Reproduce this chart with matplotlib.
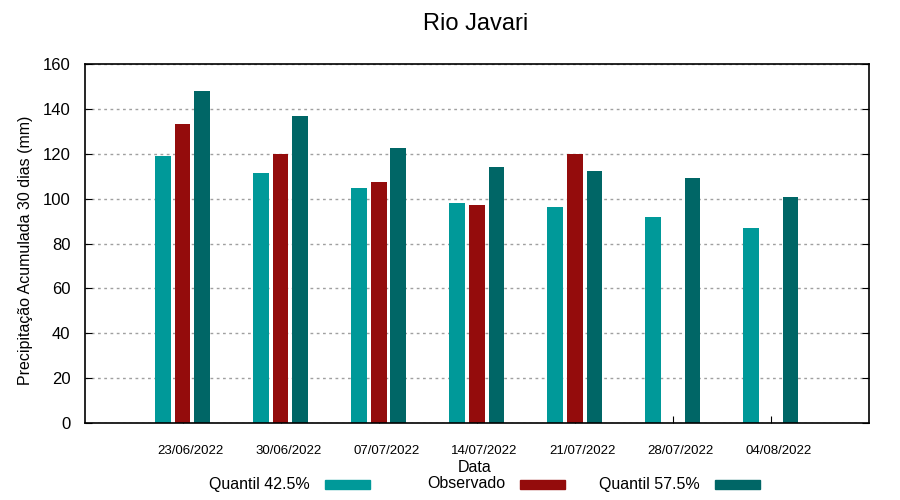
import matplotlib.pyplot as plt
import numpy as np
from matplotlib.patches import Rectangle

plt.rcParams['font.family'] = ['Liberation Sans', 'DejaVu Sans']

# data (mm)
datas = ["23/06/2022", "30/06/2022", "07/07/2022", "14/07/2022",
         "21/07/2022", "28/07/2022", "04/08/2022"]
q425 = [119, 111.7, 105, 98, 96.5, 92.1, 87.2]
observado = [133.2, 119.8, 107.7, 97.4, 119.8, np.nan, np.nan]
q575 = [148, 136.8, 122.5, 114, 112.2, 109.5, 100.6]

cores = ["#009999", "#940c0c", "#006666"]
nomes = ["Quantil 42.5%", "Observado", "Quantil 57.5%"]

fig = plt.figure(figsize=(9, 5), dpi=100)
ax = fig.add_axes([84.5 / 900, 1 - 423 / 500, (869 - 84.5) / 900, (423 - 64.3) / 500])

x = np.arange(len(datas))
w = 0.16
ax.bar(x - 0.2, q425, w, color=cores[0], zorder=3)
ax.bar(x, observado, w, color=cores[1], zorder=3)
ax.bar(x + 0.2, q575, w, color=cores[2], zorder=3)

ax.set_xlim(-1, 7)
ax.set_ylim(0, 160)
ax.set_yticks(range(0, 161, 20))
# tick marks on the group centre, labels a bit to the right (gnuplot look)
ax.set_xticks(x)
ax.set_xticklabels([])
ax.set_xticks(x + 0.08, minor=True)
ax.set_xticklabels(datas, minor=True, fontsize=9.5)

ax.tick_params(axis='y', direction='in', length=5, labelsize=12, pad=10, right=True)
ax.tick_params(axis='x', which='major', direction='in', length=5)
ax.tick_params(axis='x', which='minor', length=0, pad=15.5)
ax.grid(axis='y', color='#a0a0a0', linestyle=(0, (2, 2.5)), linewidth=1, zorder=1)
for s in ax.spines.values():
    s.set_linewidth(1.2)
    s.set_zorder(4)

ax.set_ylabel("Precipitação Acumulada 30 dias (mm)", fontsize=11.5)
ax.yaxis.set_label_coords(-0.066, 0.482)
fig.text(475 / 900, 1 - 468 / 500, "Data", fontsize=11.5, ha='center', va='center')
fig.text(476 / 900, 1 - 24 / 500, "Rio Javari", fontsize=17, ha='center', va='center')

# legend drawn by hand, gnuplot style: text first, then the swatch
for i in range(3):
    xt = 310 + 195 * i
    fig.text(xt / 900, 1 - 484 / 500, nomes[i], fontsize=11.5, ha='right', va='center')
    fig.patches.append(Rectangle(((xt + 15) / 900, 1 - 489 / 500), 45 / 900, 9 / 500,
                                 transform=fig.transFigure, color=cores[i]))

fig.savefig("out.png", dpi=100)
